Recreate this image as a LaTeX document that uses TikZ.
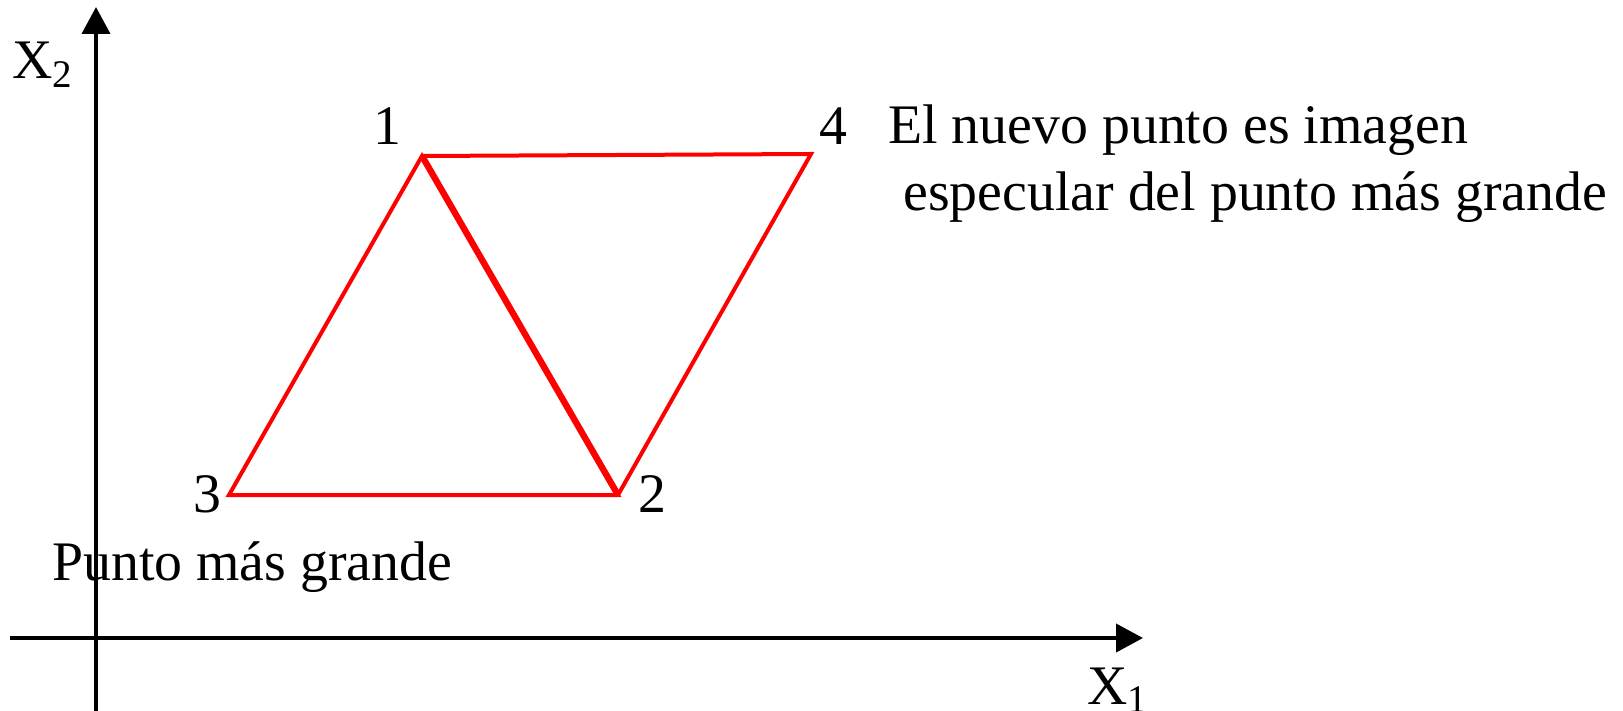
\documentclass[tikz,border=0pt]{standalone}
\usepackage{fontspec}
\setmainfont{Liberation Serif}
\usetikzlibrary{positioning,arrows.meta}

\begin{document}
\begin{tikzpicture}[x=0.5pt, y=-0.5pt,
  font=\fontsize{27.9pt}{33.5pt}\selectfont,
  txt/.style={inner sep=0pt, anchor=base west},
  num/.style={inner sep=0pt, anchor=base},
  ax/.style={line width=2pt, -{Triangle[length=13.5pt, width=14pt]}},
  side/.style={red, line width=2pt}]
\useasboundingbox (0,0) rectangle (1623,711);
% axes
\coordinate (o1) at (10,638);
\coordinate (e1) at (1143,638);
\coordinate (o2) at (96,711);
\coordinate (e2) at (96,7);
\draw[ax] (o1) -- (e1);
\draw[ax] (o2) -- (e2);
\node[txt] (lx1) at (1087,704) {X\textsubscript{1}};
\node[txt] (lx2) at (12,79) {X\textsubscript{2}};
% simplex and reflected point
\coordinate (p1) at (422,156);
\coordinate (p2) at (618,495);
\coordinate (p3) at (229,495);
\coordinate (p4) at (811,154);
\draw[side] (p1) -- (p3) -- (p2) -- cycle;
\draw[side] (p1) -- (p4) -- (p2);
\draw[side, line width=3.2pt] (p1) -- (p2);
\node[num] (n1) at (387,145) {1};
\node[num] (n2) at (652,512) {2};
\node[num] (n3) at (207,512) {3};
\node[num] (n4) at (833,145) {4};
% texts
\node[txt] (big) at (52,580) {Punto más grande};
\node[txt] (new1) at (888,144) {El nuevo punto es imagen};
\node[txt] (new2) at (903,211) {especular del punto más grande};
\end{tikzpicture}
\end{document}
